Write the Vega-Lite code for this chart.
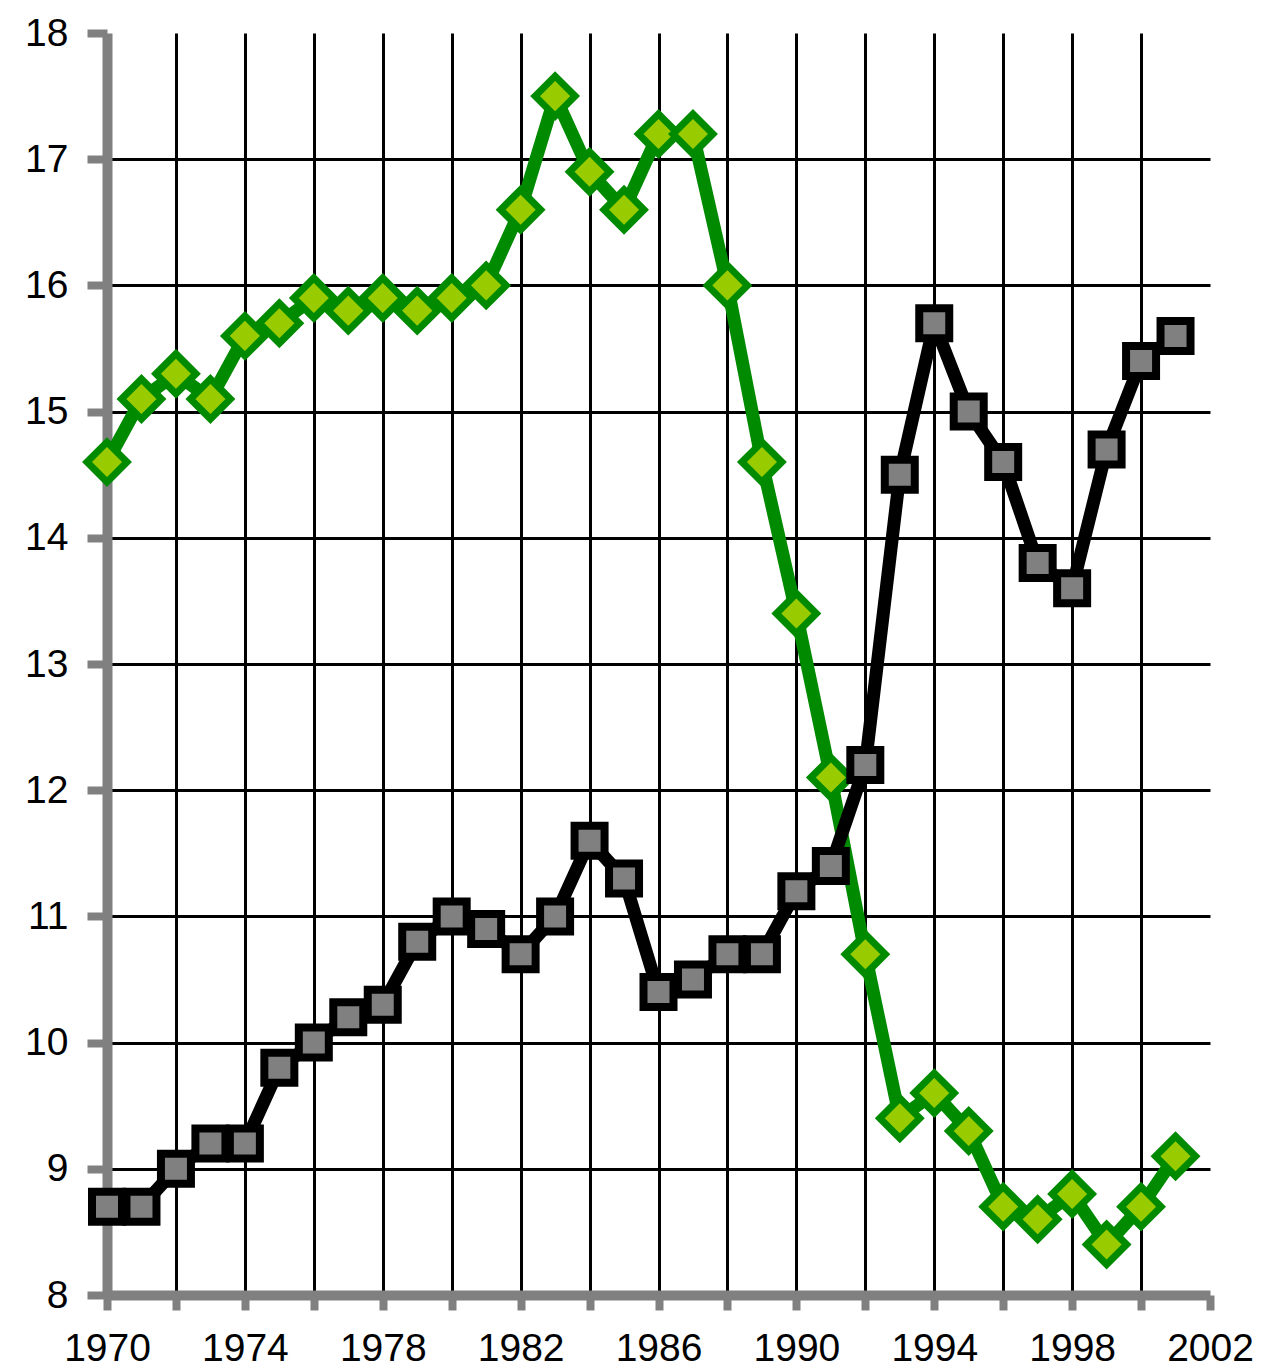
{
  "$schema": "https://vega.github.io/schema/vega-lite/v6.json",
  "width": 1103,
  "height": 1262,
  "autosize": {"type": "none"},
  "padding": {"left": 107, "top": 33, "right": 52, "bottom": 77},
  "background": "white",
  "config": {"view": {"stroke": null}, "font": "Liberation Sans"},
  "data": {
    "values": [
      {"year": 1970, "series": "green", "value": 14.6},
      {"year": 1971, "series": "green", "value": 15.1},
      {"year": 1972, "series": "green", "value": 15.3},
      {"year": 1973, "series": "green", "value": 15.1},
      {"year": 1974, "series": "green", "value": 15.6},
      {"year": 1975, "series": "green", "value": 15.7},
      {"year": 1976, "series": "green", "value": 15.9},
      {"year": 1977, "series": "green", "value": 15.8},
      {"year": 1978, "series": "green", "value": 15.9},
      {"year": 1979, "series": "green", "value": 15.8},
      {"year": 1980, "series": "green", "value": 15.9},
      {"year": 1981, "series": "green", "value": 16.0},
      {"year": 1982, "series": "green", "value": 16.6},
      {"year": 1983, "series": "green", "value": 17.5},
      {"year": 1984, "series": "green", "value": 16.9},
      {"year": 1985, "series": "green", "value": 16.6},
      {"year": 1986, "series": "green", "value": 17.2},
      {"year": 1987, "series": "green", "value": 17.2},
      {"year": 1988, "series": "green", "value": 16.0},
      {"year": 1989, "series": "green", "value": 14.6},
      {"year": 1990, "series": "green", "value": 13.4},
      {"year": 1991, "series": "green", "value": 12.1},
      {"year": 1992, "series": "green", "value": 10.7},
      {"year": 1993, "series": "green", "value": 9.4},
      {"year": 1994, "series": "green", "value": 9.6},
      {"year": 1995, "series": "green", "value": 9.3},
      {"year": 1996, "series": "green", "value": 8.7},
      {"year": 1997, "series": "green", "value": 8.6},
      {"year": 1998, "series": "green", "value": 8.8},
      {"year": 1999, "series": "green", "value": 8.4},
      {"year": 2000, "series": "green", "value": 8.7},
      {"year": 2001, "series": "green", "value": 9.1},
      {"year": 1970, "series": "black", "value": 8.7},
      {"year": 1971, "series": "black", "value": 8.7},
      {"year": 1972, "series": "black", "value": 9.0},
      {"year": 1973, "series": "black", "value": 9.2},
      {"year": 1974, "series": "black", "value": 9.2},
      {"year": 1975, "series": "black", "value": 9.8},
      {"year": 1976, "series": "black", "value": 10.0},
      {"year": 1977, "series": "black", "value": 10.2},
      {"year": 1978, "series": "black", "value": 10.3},
      {"year": 1979, "series": "black", "value": 10.8},
      {"year": 1980, "series": "black", "value": 11.0},
      {"year": 1981, "series": "black", "value": 10.9},
      {"year": 1982, "series": "black", "value": 10.7},
      {"year": 1983, "series": "black", "value": 11.0},
      {"year": 1984, "series": "black", "value": 11.6},
      {"year": 1985, "series": "black", "value": 11.3},
      {"year": 1986, "series": "black", "value": 10.4},
      {"year": 1987, "series": "black", "value": 10.5},
      {"year": 1988, "series": "black", "value": 10.7},
      {"year": 1989, "series": "black", "value": 10.7},
      {"year": 1990, "series": "black", "value": 11.2},
      {"year": 1991, "series": "black", "value": 11.4},
      {"year": 1992, "series": "black", "value": 12.2},
      {"year": 1993, "series": "black", "value": 14.5},
      {"year": 1994, "series": "black", "value": 15.7},
      {"year": 1995, "series": "black", "value": 15.0},
      {"year": 1996, "series": "black", "value": 14.6},
      {"year": 1997, "series": "black", "value": 13.8},
      {"year": 1998, "series": "black", "value": 13.6},
      {"year": 1999, "series": "black", "value": 14.7},
      {"year": 2000, "series": "black", "value": 15.4},
      {"year": 2001, "series": "black", "value": 15.6}
    ]
  },
  "encoding": {
    "x": {
      "field": "year",
      "type": "quantitative",
      "scale": {"domain": [1970, 2002], "nice": false, "zero": false},
      "axis": {
        "title": null,
        "values": [1970, 1972, 1974, 1976, 1978, 1980, 1982, 1984, 1986, 1988, 1990, 1992, 1994, 1996, 1998, 2000, 2002],
        "format": "d",
        "labelExpr": "datum.value % 4 == 2 ? datum.label : ''",
        "labelOverlap": false,
        "labelFlush": false,
        "labelFont": "Liberation Sans",
        "labelFontSize": 39,
        "labelColor": "black",
        "labelPadding": 19,
        "labelDx": -4,
        "grid": true,
        "gridColor": "black",
        "gridWidth": 3,
        "gridOpacity": {"condition": {"test": "datum.value == 1970 || datum.value == 2002", "value": 0}, "value": 1},
        "domainColor": "#808080",
        "domainWidth": 10,
        "tickColor": "#808080",
        "tickWidth": 8,
        "tickSize": 15
      }
    },
    "y": {
      "field": "value",
      "type": "quantitative",
      "scale": {"domain": [8, 18], "nice": false, "zero": false},
      "axis": {
        "title": null,
        "values": [8, 9, 10, 11, 12, 13, 14, 15, 16, 17, 18],
        "format": "d",
        "labelOverlap": false,
        "labelFlush": false,
        "labelFont": "Liberation Sans",
        "labelFontSize": 39,
        "labelColor": "black",
        "labelPadding": 19,
        "grid": true,
        "gridColor": "black",
        "gridWidth": 3,
        "gridOpacity": {"condition": {"test": "datum.value == 8 || datum.value == 18", "value": 0}, "value": 1},
        "domainColor": "#808080",
        "domainWidth": 10,
        "tickColor": "#808080",
        "tickWidth": 8,
        "tickSize": 20
      }
    }
  },
  "layer": [
    {
      "transform": [{"filter": "datum.series === 'green'"}],
      "mark": {"type": "line", "color": "#008a00", "strokeWidth": 13, "strokeJoin": "round"}
    },
    {
      "transform": [{"filter": "datum.series === 'green'"}],
      "mark": {"type": "point", "shape": "diamond", "filled": true, "fill": "#99cc00", "stroke": "#008a00", "strokeWidth": 7, "size": 1600, "opacity": 1}
    },
    {
      "transform": [{"filter": "datum.series === 'black'"}],
      "mark": {"type": "line", "color": "#000000", "strokeWidth": 13, "strokeJoin": "round"}
    },
    {
      "transform": [{"filter": "datum.series === 'black'"}],
      "mark": {"type": "point", "shape": "square", "filled": true, "fill": "#808080", "stroke": "#000000", "strokeWidth": 8, "size": 900, "opacity": 1}
    }
  ]
}
